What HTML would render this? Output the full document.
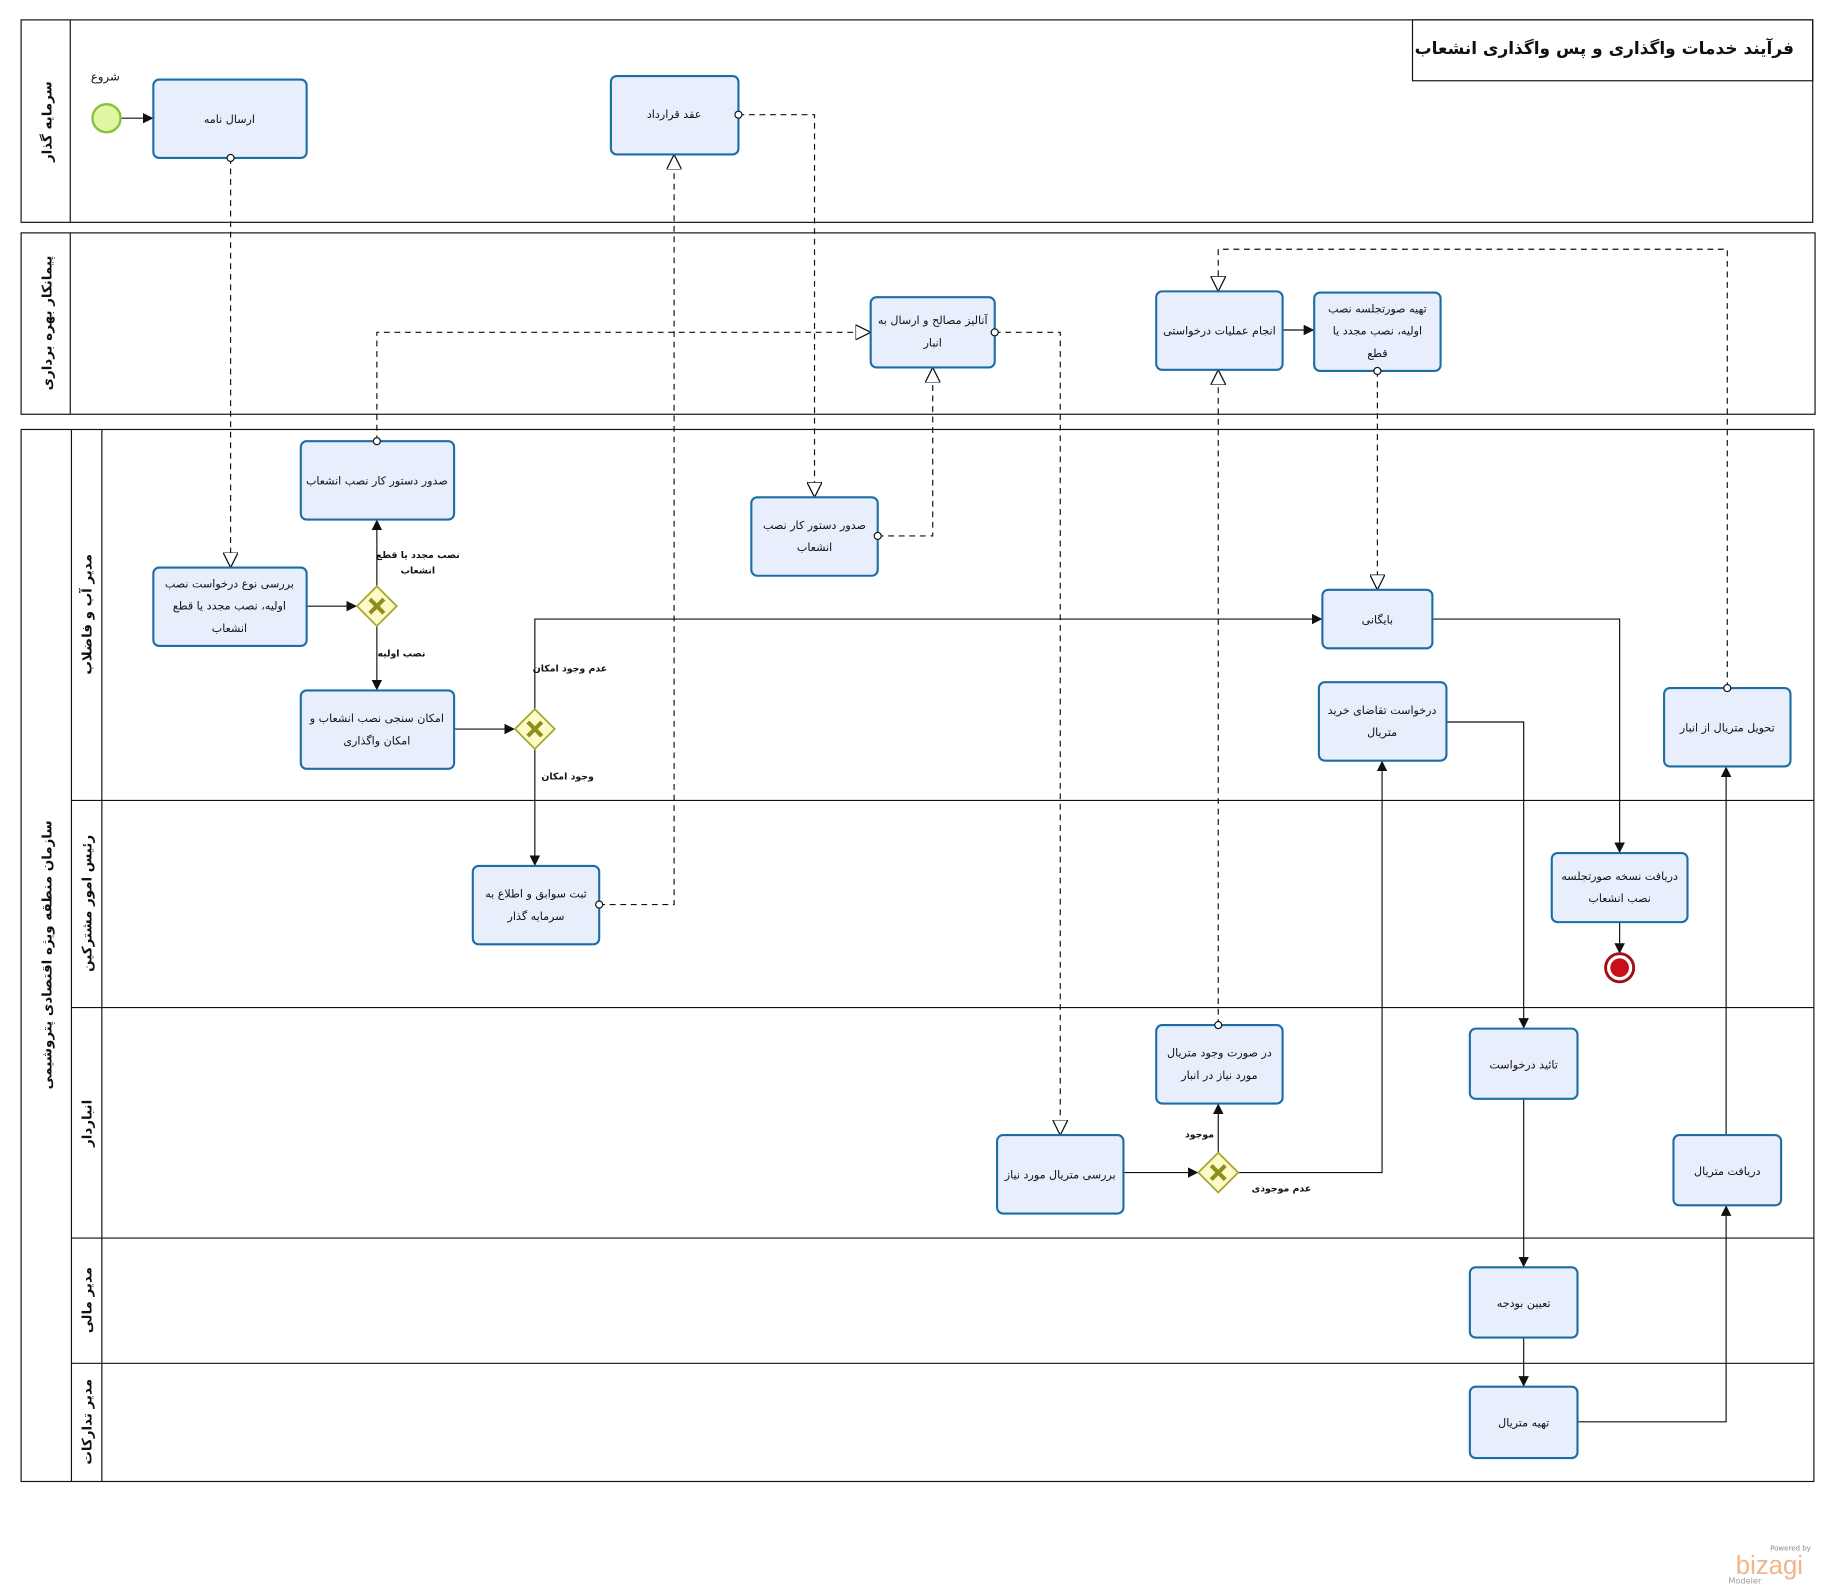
<!DOCTYPE html>
<html><head><meta charset="utf-8"><style>
html,body{margin:0;padding:0;background:#fff}
svg{display:block}
text{font-family:"DejaVu Sans","Liberation Sans",sans-serif;fill:#111}
.t{fill:#e9eefd;stroke:#1b6ea5;stroke-width:1.8}
.tx{font-size:9.5px;text-anchor:middle;direction:rtl}
.lb{font-size:8px;font-weight:bold;text-anchor:middle;direction:rtl}
.ln{font-size:11.5px;font-weight:bold;text-anchor:middle;direction:rtl}
.s{fill:none;stroke:#111;stroke-width:1}
.d{fill:none;stroke:#111;stroke-width:1;stroke-dasharray:5,4}
.o{fill:#fff;stroke:#111;stroke-width:1}
.g{fill:#fbfbc7;stroke:#a7a52a;stroke-width:1.5}
.gx{stroke:#8f8d1c;stroke-width:3.5}
</style></head><body>
<svg width="1835" height="1595" viewBox="0 0 1568 1363" xmlns="http://www.w3.org/2000/svg">
<defs>
<marker id="a" viewBox="0 0 10 10" refX="10" refY="5" markerWidth="9" markerHeight="9" orient="auto" markerUnits="userSpaceOnUse"><path d="M0,0 L10,5 L0,10 z" fill="#111"/></marker>
<marker id="h" viewBox="0 0 12 12" refX="12" refY="6" markerWidth="13" markerHeight="13" orient="auto" markerUnits="userSpaceOnUse"><path d="M0,0 L12,6 L0,12 z" fill="#fff" stroke="#111"/></marker>
</defs>
<rect x="18" y="17" width="1531" height="173" fill="none" stroke="#111"/>
<line x1="60" y1="17" x2="60" y2="190" stroke="#111"/>
<rect x="1207" y="17" width="342" height="52" fill="none" stroke="#111"/>
<text x="1533" y="46" style="font-size:14.5px;font-weight:bold;text-anchor:start;direction:rtl">فرآیند خدمات واگذاری و پس واگذاری انشعاب</text>
<rect x="18" y="199" width="1533" height="155" fill="none" stroke="#111"/>
<line x1="60" y1="199" x2="60" y2="354" stroke="#111"/>
<rect x="18" y="367" width="1532" height="899" fill="none" stroke="#111"/>
<line x1="61" y1="367" x2="61" y2="1266" stroke="#111"/>
<line x1="87" y1="367" x2="87" y2="1266" stroke="#111"/>
<g stroke="#111"><line x1="61" y1="684" x2="1550" y2="684"/><line x1="61" y1="861" x2="1550" y2="861"/><line x1="61" y1="1058" x2="1550" y2="1058"/><line x1="61" y1="1165" x2="1550" y2="1165"/></g>
<text class="ln" transform="translate(44,104) rotate(-90)">سرمایه گذار</text>
<text class="ln" transform="translate(44,276) rotate(-90)">پیمانکار بهره برداری</text>
<text class="ln" transform="translate(44,816) rotate(-90)">سازمان منطقه ویژه اقتصادی پتروشیمی</text>
<text class="ln" transform="translate(78,525) rotate(-90)">مدیر آب و فاضلاب</text>
<text class="ln" transform="translate(78,772) rotate(-90)">رئیس امور مشترکین</text>
<text class="ln" transform="translate(78,960) rotate(-90)">انباردار</text>
<text class="ln" transform="translate(78,1111) rotate(-90)">مدیر مالی</text>
<text class="ln" transform="translate(78,1215) rotate(-90)">مدیر تدارکات</text>

<g class="s">
<path d="M103,101 H131" marker-end="url(#a)"/>
<path d="M262,518 H305" marker-end="url(#a)"/>
<path d="M322,501 V444" marker-end="url(#a)"/>
<path d="M322,535 V590" marker-end="url(#a)"/>
<path d="M388,623 H440" marker-end="url(#a)"/>
<path d="M457,606 V529 H1130" marker-end="url(#a)"/>
<path d="M457,640 V740" marker-end="url(#a)"/>
<path d="M1224,529 H1384 V729" marker-end="url(#a)"/>
<path d="M1384,788 V815" marker-end="url(#a)"/>
<path d="M1096,282 H1123" marker-end="url(#a)"/>
<path d="M960,1002 H1024" marker-end="url(#a)"/>
<path d="M1041,985 V943" marker-end="url(#a)"/>
<path d="M1058,1002 H1181 V650" marker-end="url(#a)"/>
<path d="M1236,617 H1302 V879" marker-end="url(#a)"/>
<path d="M1302,939 V1083" marker-end="url(#a)"/>
<path d="M1302,1143 V1185" marker-end="url(#a)"/>
<path d="M1348,1215 H1475 V1030" marker-end="url(#a)"/>
<path d="M1475,970 V655" marker-end="url(#a)"/>
</g>
<g class="d">
<path d="M197,135 V485" marker-end="url(#h)"/>
<path d="M322,377 V284 H744" marker-end="url(#h)"/>
<path d="M631,98 H696 V425" marker-end="url(#h)"/>
<path d="M750,458 H797 V314" marker-end="url(#h)"/>
<path d="M512,773 H576 V132" marker-end="url(#h)"/>
<path d="M850,284 H906 V970" marker-end="url(#h)"/>
<path d="M1041,876 V316" marker-end="url(#h)"/>
<path d="M1177,317 V504" marker-end="url(#h)"/>
<path d="M1476,588 V213 H1041 V249" marker-end="url(#h)"/>
</g>
<circle cx="91" cy="101" r="12" fill="#e2f7a3" stroke="#86c13a" stroke-width="2"/>
<text x="90" y="69" style="font-size:10px;text-anchor:middle">شروع</text>
<circle cx="1384" cy="827" r="12" fill="#fff" stroke="#a0101a" stroke-width="2.5"/>
<circle cx="1384" cy="827" r="8" fill="#c8101c"/>
<g>
<path class="g" d="M322,501 L339,518 L322,535 L305,518 z"/><path class="gx" d="M316,512 L328,524 M328,512 L316,524"/>
<path class="g" d="M457,606 L474,623 L457,640 L440,623 z"/><path class="gx" d="M451,617 L463,629 M463,617 L451,629"/>
<path class="g" d="M1041,985 L1058,1002 L1041,1019 L1024,1002 z"/><path class="gx" d="M1035,996 L1047,1008 M1047,996 L1035,1008"/>
</g>
<text class="lb" x="357" y="477">نصب مجدد یا قطع</text>
<text class="lb" x="357" y="490">انشعاب</text>
<text class="lb" x="343" y="561">نصب اولیه</text>
<text class="lb" x="487" y="574">عدم وجود امکان</text>
<text class="lb" x="485" y="666">وجود امکان</text>
<text class="lb" x="1025" y="972">موجود</text>
<text class="lb" x="1095" y="1018">عدم موجودی</text>
<g class="t">
<rect x="131" y="68" width="131" height="67" rx="5"/>
<rect x="522" y="65" width="109" height="67" rx="5"/>
<rect x="744" y="254" width="106" height="60" rx="5"/>
<rect x="988" y="249" width="108" height="67" rx="5"/>
<rect x="1123" y="250" width="108" height="67" rx="5"/>
<rect x="257" y="377" width="131" height="67" rx="5"/>
<rect x="642" y="425" width="108" height="67" rx="5"/>
<rect x="131" y="485" width="131" height="67" rx="5"/>
<rect x="257" y="590" width="131" height="67" rx="5"/>
<rect x="1130" y="504" width="94" height="50" rx="5"/>
<rect x="1127" y="583" width="109" height="67" rx="5"/>
<rect x="1422" y="588" width="108" height="67" rx="5"/>
<rect x="404" y="740" width="108" height="67" rx="5"/>
<rect x="1326" y="729" width="116" height="59" rx="5"/>
<rect x="988" y="876" width="108" height="67" rx="5"/>
<rect x="852" y="970" width="108" height="67" rx="5"/>
<rect x="1256" y="879" width="92" height="60" rx="5"/>
<rect x="1430" y="970" width="92" height="60" rx="5"/>
<rect x="1256" y="1083" width="92" height="60" rx="5"/>
<rect x="1256" y="1185" width="92" height="61" rx="5"/>
</g>
<g class="o">
<circle cx="197" cy="135" r="3"/><circle cx="322" cy="377" r="3"/><circle cx="631" cy="98" r="3"/><circle cx="750" cy="458" r="3"/><circle cx="512" cy="773" r="3"/><circle cx="850" cy="284" r="3"/><circle cx="1041" cy="876" r="3"/><circle cx="1177" cy="317" r="3"/><circle cx="1476" cy="588" r="3"/>
</g>
<g class="tx">
<text x="196" y="105">ارسال نامه</text>
<text x="576" y="101">عقد قرارداد</text>
<text x="797" y="277">آنالیز مصالح و ارسال به</text><text x="797" y="296">انبار</text>
<text x="1042" y="286">انجام عملیات درخواستی</text>
<text x="1177" y="267">تهیه صورتجلسه نصب</text><text x="1177" y="286">اولیه، نصب مجدد یا</text><text x="1177" y="305">قطع</text>
<text x="322" y="414">صدور دستور کار نصب انشعاب</text>
<text x="696" y="452">صدور دستور کار نصب</text><text x="696" y="471">انشعاب</text>
<text x="196" y="502">بررسی نوع درخواست نصب</text><text x="196" y="521">اولیه، نصب مجدد یا قطع</text><text x="196" y="540">انشعاب</text>
<text x="322" y="617">امکان سنجی نصب انشعاب و</text><text x="322" y="636">امکان واگذاری</text>
<text x="1177" y="533">بایگانی</text>
<text x="1181" y="610">درخواست تقاضای خرید</text><text x="1181" y="629">متریال</text>
<text x="1476" y="625">تحویل متریال از انبار</text>
<text x="458" y="767">ثبت سوابق و اطلاع به</text><text x="458" y="786">سرمایه گذار</text>
<text x="1384" y="752">دریافت نسخه صورتجلسه</text><text x="1384" y="771">نصب انشعاب</text>
<text x="1042" y="903">در صورت وجود متریال</text><text x="1042" y="922">مورد نیاز در انبار</text>
<text x="906" y="1007">بررسی متریال مورد نیاز</text>
<text x="1302" y="913">تائید درخواست</text>
<text x="1476" y="1004">دریافت متریال</text>
<text x="1302" y="1117">تعیین بودجه</text>
<text x="1302" y="1219">تهیه متریال</text>
</g>
<text x="1530" y="1325" style="font-size:6px;text-anchor:middle;fill:#888">Powered by</text>
<text x="1512" y="1345" style="font-size:22px;text-anchor:middle;fill:#f2b48a;font-family:'Liberation Sans',sans-serif">bizagi</text>
<text x="1491" y="1353" style="font-size:7px;text-anchor:middle;fill:#999">Modeler</text>
</svg>
</body></html>
